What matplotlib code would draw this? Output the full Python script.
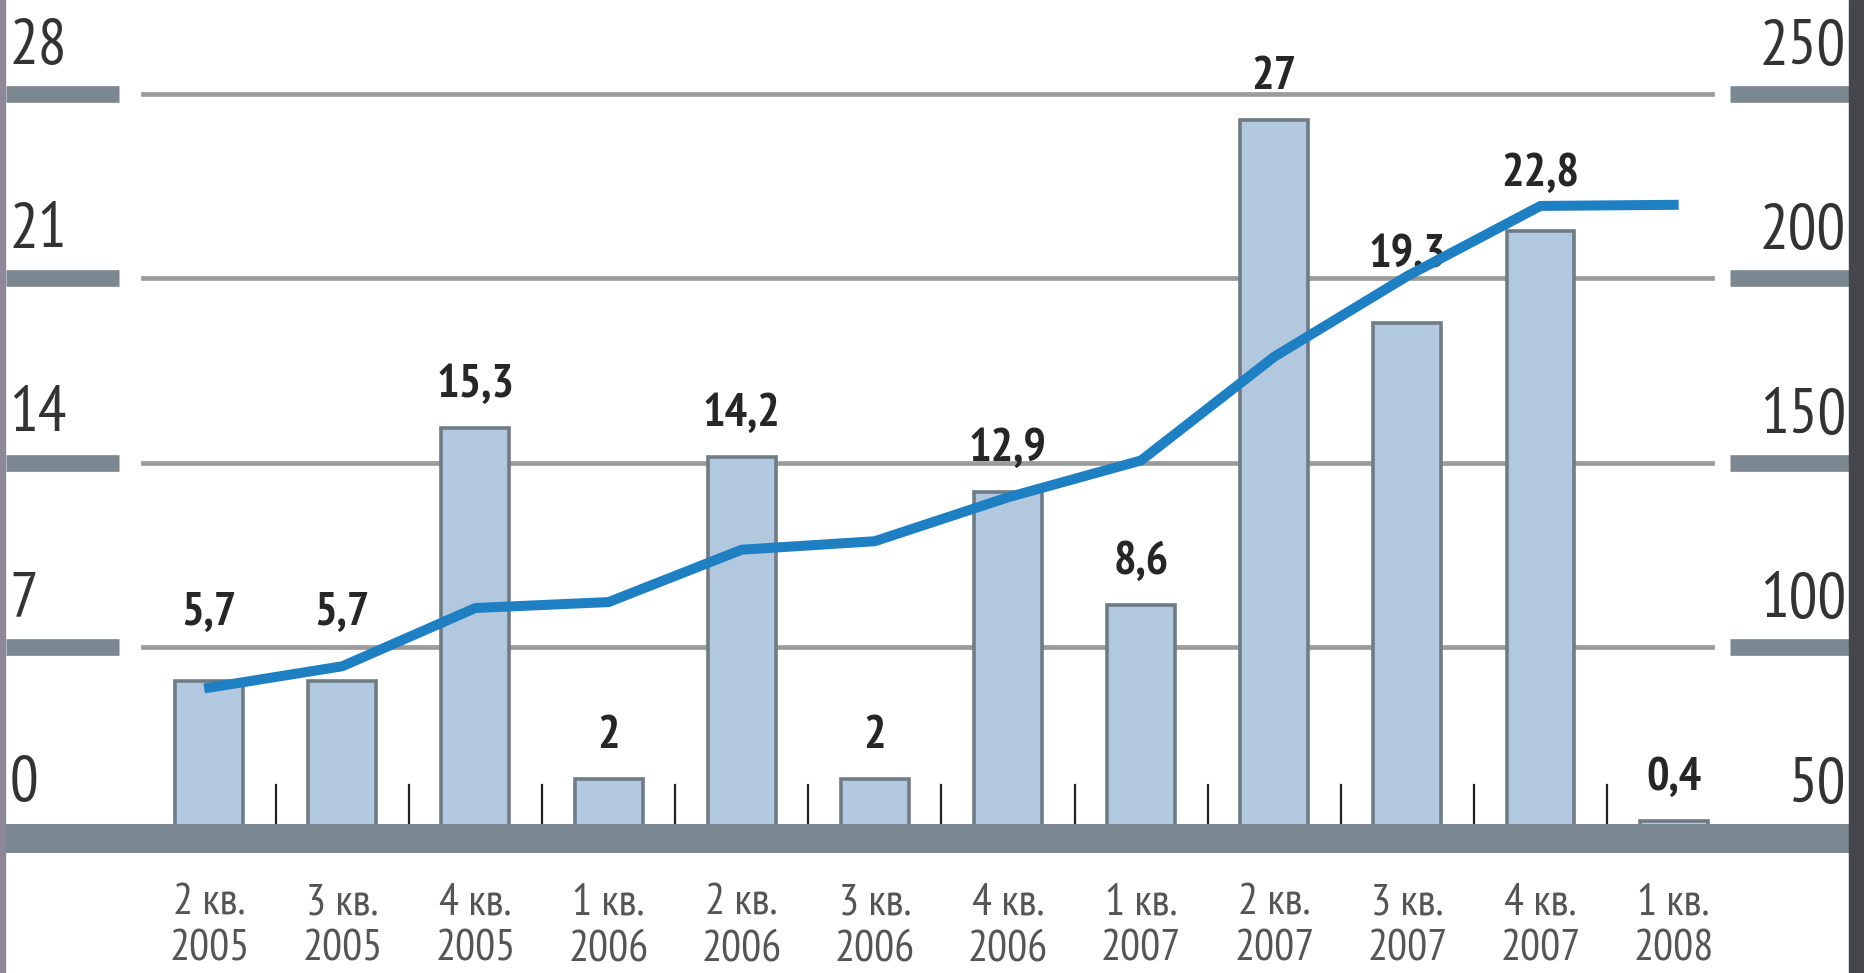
import matplotlib
matplotlib.use("Agg")
import matplotlib.pyplot as plt

# квартальные значения (столбцы, левая шкала) и линия (правая шкала)
quarters = ["2 кв.\n2005", "3 кв.\n2005", "4 кв.\n2005", "1 кв.\n2006",
            "2 кв.\n2006", "3 кв.\n2006", "4 кв.\n2006", "1 кв.\n2007",
            "2 кв.\n2007", "3 кв.\n2007", "4 кв.\n2007", "1 кв.\n2008"]
bars = [5.7, 5.7, 15.3, 2, 14.2, 2, 12.9, 8.6, 27, 19.3, 22.8, 0.4]
bar_labels = ["5,7", "5,7", "15,3", "2", "14,2", "2", "12,9", "8,6",
              "27", "19,3", "22,8", "0,4"]
line = [89, 94.8, 110.6, 112.2, 126.4, 128.7, 140.6, 150.6, 178.7, 200.6,
        219.6, 219.9]
left_ticks = [0, 7, 14, 21, 28]
right_ticks = [50, 100, 150, 200, 250]

# подъём подписей над столбцами, pt
lab_off = [49, 49, 31, 31, 31, 31, 31, 31, 31, 49, 41, 31]

plt.rcParams["font.family"] = ["PT Sans Narrow", "Roboto Condensed", "Archivo Narrow",
                               "Liberation Sans", "DejaVu Sans"]

bar_c = "#b2c8df"
edge_c = "#6f7b85"
slate = "#7b8892"
grid_c = "#9b9b9b"
blue = "#1f7fc3"

fig = plt.figure(figsize=(18.64, 9.73), dpi=100)
ax = fig.add_axes([0, 0, 1, 1])
ax.set_axis_off()
ax.set_xlim(-1.571, 12.43)
ax.set_ylim(-5.37, 31.56)

x = list(range(len(bars)))

# сетка и плашки шкал
for v in left_ticks[1:]:
    ax.axhline(v, xmin=120 / 1568, xmax=1440 / 1568, color=grid_c, lw=3.4, zorder=1)
    ax.axhline(v, xmin=0.003, xmax=100 / 1568, color=slate, lw=12, solid_capstyle="butt", zorder=1)
    ax.axhline(v, xmin=1455 / 1568, xmax=1555 / 1568, color=slate, lw=12, solid_capstyle="butt", zorder=1)

ax.bar(x, bars, width=0.51, color=bar_c, edgecolor=edge_c, linewidth=2.6, zorder=2)

# основание
ax.axhspan(-0.8, 0.3, xmin=0, xmax=1555 / 1568, color=slate, zorder=3, lw=0)

# засечки между столбцами
for i in range(len(bars) - 1):
    ax.plot([i + 0.5, i + 0.5], [0.3, 1.75], color="#222222", lw=1.6, zorder=2)

for i, (v, t) in enumerate(zip(bars, bar_labels)):
    ax.annotate(t, (i, v), xytext=(0, lab_off[i]), textcoords="offset points",
                ha="center", va="center", fontsize=34, fontweight="bold",
                color="#262626", zorder=6)

for i, q in enumerate(quarters):
    ax.text(i, -3.6, q, ha="center", va="center", fontsize=32, color="#555555",
            linespacing=1.2)

for v in left_ticks:
    ax.annotate(str(v), (8 / 1568, v), xycoords=("axes fraction", "data"),
                xytext=(0, 34), textcoords="offset points", ha="left",
                va="center", fontsize=46, color="#333333")

ax2 = ax.twinx()
ax2.set_axis_off()
ax2.set_ylim(50 + ax.get_ylim()[0] * 200 / 28, 50 + ax.get_ylim()[1] * 200 / 28)
ax2.plot(x, line, color=blue, lw=7.2, solid_joinstyle="round", zorder=5)

for r in right_ticks:
    ax2.annotate(str(r), (1553 / 1568, r), xycoords=("axes fraction", "data"),
                 xytext=(0, 33), textcoords="offset points", ha="right",
                 va="center", fontsize=46, color="#333333")

# края картинки
fig.patches.append(plt.Rectangle((0, 0), 4 / 1568, 1, transform=fig.transFigure,
                                 color="#8d8797", zorder=10))
fig.patches.append(plt.Rectangle((1555 / 1568, 0), 13 / 1568, 1,
                                 transform=fig.transFigure, color="#46464d", zorder=10))

fig.savefig("out.png", dpi=100)
